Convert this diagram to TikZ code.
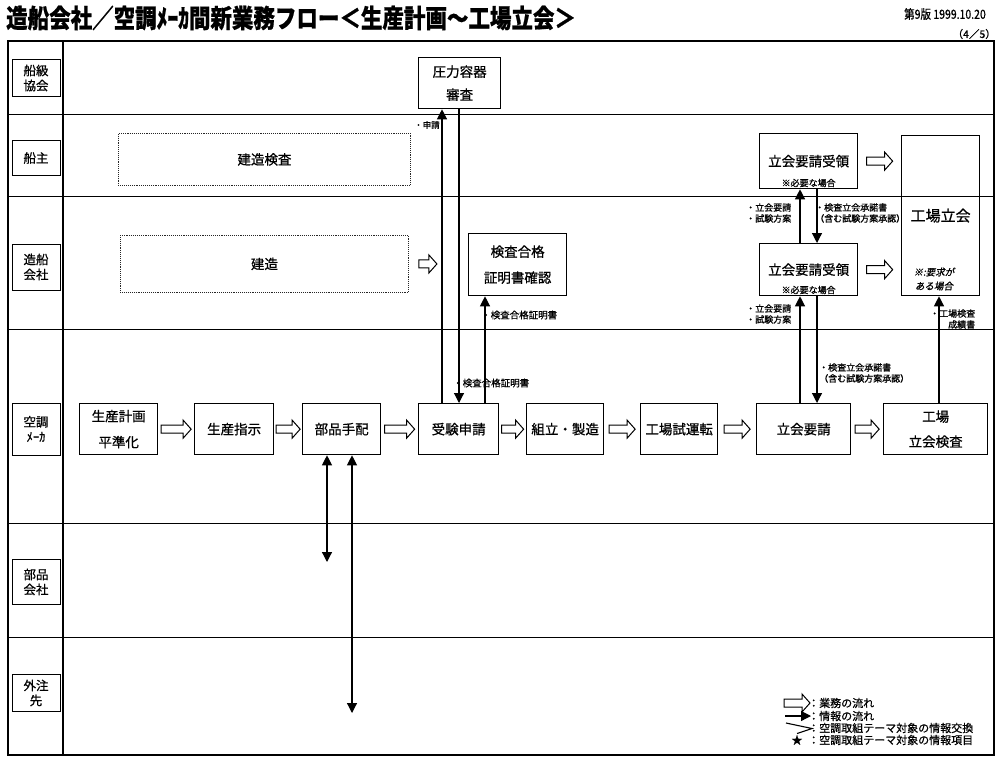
\documentclass[tikz,border=0pt]{standalone}
\usepackage{fontspec}
\setmainfont{Noto Sans CJK JP}[FakeBold=0.8]
\newfontfamily\slantjp[FakeSlant=0.2, FakeBold=0.8]{Noto Sans CJK JP}
\usetikzlibrary{arrows.meta, positioning, calc}
\newcommand{\fsz}[2]{\fontsize{#1}{#2}\selectfont}

\begin{document}
\begin{tikzpicture}[x=1pt, y=-1pt, font=\fsz{13.5}{16}, align=center,
    box/.style={draw, line width=1.3pt, anchor=north west, inner sep=0pt},
    dotbox/.style={draw=black!85, densely dotted, line width=0.9pt, anchor=north west, inner sep=0pt},
    lanebox/.style={draw, line width=1pt, minimum width=48, inner sep=0pt, font=\fsz{12.5}{15}},
    laneline/.style={line width=1pt},
    info/.style={line width=1.2pt, -{Triangle[length=10pt, width=10pt]}},
    infoboth/.style={line width=1.2pt, {Triangle[length=10pt, width=10pt]}-{Triangle[length=10pt, width=10pt]}},
    memo/.style={font=\fsz{9}{11}, inner sep=0pt, anchor=west, align=left},
    note/.style={font=\fsz{9}{11}, inner sep=2pt},
    legend/.style={font=\fsz{11}{13}, inner sep=0pt, anchor=west},
    pics/flowarrow/.style={code={
        \draw[line width=1pt, fill=white] (-#1,-4) -- (#1-8,-4) -- (#1-8,-9) -- (#1,0)
            -- (#1-8,9) -- (#1-8,4) -- (-#1,4) -- cycle;}},
    pics/flowarrow/.default=12.5]
\useasboundingbox (0,0) rectangle (1000,757);

% header
\node[anchor=west, inner sep=0pt, font=\bfseries\fsz{21.5}{24}] (title) at (6,18)
    {\scalebox{1}[1.2]{造船会社／空調ﾒｰｶ間新業務フロー＜生産計画～工場立会＞}};
\node[anchor=east, inner sep=0pt, font=\fsz{10.5}{12}] (version) at (986,14) {\scalebox{1}[1.2]{第9版 1999.10.20}};
\node[anchor=east, inner sep=0pt, font=\fsz{10.5}{12}] (page) at (996,34) {（4／5）};

% frame and lanes
\draw[line width=1.6pt] (8,41) rectangle (994,755);
\draw[line width=1.3pt] (63,41) -- (63,755);
\foreach \y in {115,196,329,523,637}
    \draw[laneline] (8,\y) -- (994,\y);

\node[lanebox, minimum height=37] (lkyoukai) at (36,78) {船級\\協会};
\node[lanebox, minimum height=35] (lsenshu) at (36,158) {船主};
\node[lanebox, minimum height=46] (lzousen) at (36,267) {造船\\会社};
\node[lanebox, minimum height=52] (lkuchou) at (36,429) {空調\\ﾒｰｶ};
\node[lanebox, minimum height=45] (lbuhin) at (36,582) {部品\\会社};
\node[lanebox, minimum height=37] (lgaichu) at (36,693) {外注\\先};

% 船級協会 / 船主 / 造船会社
\node[box, minimum width=82, minimum height=51] (atsuryoku) at (418,57) {圧力容器\\[7pt]審査};
\node[dotbox, minimum width=292, minimum height=52] (kenzoukensa) at (118,133) {建造検査};
\node[dotbox, minimum width=288, minimum height=57] (kenzou) at (120,235) {建造};
\node[box, minimum width=98, minimum height=62] (gokaku) at (468,233) {検査合格\\[10pt]証明書確認};
\node[box, minimum width=98, minimum height=55, label={[note, anchor=south]south:※必要な場合}] (juryou1) at (759,133) {立会要請受領};
\node[box, minimum width=98, minimum height=52, label={[note, anchor=south]south:※必要な場合}] (juryou2) at (759,243) {立会要請受領};
\node[box, minimum width=78, minimum height=160, font=\fsz{15}{18}] (tachiai) at (901,135) {工場立会};
\node[font=\slantjp\fsz{9.5}{14}, inner sep=0pt] (youkyu) at (934,279) {※:要求が\\ある場合};

% 空調メーカ
\def\ty{403}
\def\bh{51}
\node[box, minimum width=78, minimum height=\bh] (keikaku) at (79,\ty) {生産計画\\[10pt]平準化};
\node[box, minimum width=79, minimum height=\bh] (shiji) at (194,\ty) {生産指示};
\node[box, minimum width=78, minimum height=\bh] (tehai) at (302,\ty) {部品手配};
\node[box, minimum width=80, minimum height=\bh] (juken) at (418,\ty) {受験申請};
\node[box, minimum width=77, minimum height=\bh] (kumitate) at (526,\ty) {組立・製造};
\node[box, minimum width=77, minimum height=\bh] (shiunten) at (640,\ty) {工場試運転};
\node[box, minimum width=94, minimum height=\bh] (yousei) at (756,\ty) {立会要請};
\node[box, minimum width=104, minimum height=\bh] (kensa) at (883,\ty) {工場\\[9pt]立会検査};

% 業務の流れ
\pic at ($(keikaku.east)!0.5!(shiji.west)$) {flowarrow=15};
\pic at ($(shiji.east)!0.5!(tehai.west)$) {flowarrow=12};
\pic at ($(tehai.east)!0.5!(juken.west)$) {flowarrow=15};
\pic at ($(juken.east)!0.5!(kumitate.west)$) {flowarrow=11};
\pic at ($(kumitate.east)!0.5!(shiunten.west)$) {flowarrow=13};
\pic at ($(shiunten.east)!0.5!(yousei.west)$) {flowarrow=13};
\pic at ($(yousei.east)!0.5!(kensa.west)$) {flowarrow=12};
\pic at ($(kenzou.east)+(19,0)$) {flowarrow=9};
\pic at ($(juryou1.east)!0.5!(tachiai.west |- juryou1.center)$) {flowarrow=13};
\pic at ($(juryou2.east)!0.5!(tachiai.west |- juryou2.center)$) {flowarrow=13};

% 情報の流れ
\coordinate (c1) at ([xshift=24pt]juken.north west);
\coordinate (c2) at ([xshift=41pt]juken.north west);
\coordinate (c3) at ([xshift=67pt]juken.north west);
\draw[info] (c1) -- (c1 |- atsuryoku.south);
\draw[info] (c2 |- atsuryoku.south) -- (c2);
\draw[info] (c3) -- (c3 |- gokaku.south);
\node[memo, font=\fsz{8.5}{10}] (shinsei) at (414,125) {・申請};
\node[memo, font=\fsz{9.5}{11}] (shomei1) at (481,315) {・検査合格証明書};
\node[memo, font=\fsz{9.5}{11}] (shomei2) at (453,383) {・検査合格証明書};

\coordinate (t1) at ([xshift=41pt]juryou1.south west);
\coordinate (t2) at ([xshift=58pt]juryou1.south west);
\draw[info] (t1 |- juryou2.north) -- (t1);
\draw[info] (t2) -- (t2 |- juryou2.north);
\draw[info] (t1 |- yousei.north) -- (t1 |- juryou2.south);
\draw[info] (t2 |- juryou2.south) -- (t2 |- yousei.north);
\node[memo] (irai1) at (746,213) {・立会要請\\・試験方案};
\node[memo] (irai2) at (746,314) {・立会要請\\・試験方案};
\node[memo] (shoudaku1) at (815,213) {・検査立会承諾書\\（含む試験方案承認）};
\node[memo] (shoudaku2) at (819,373) {・検査立会承諾書\\（含む試験方案承認）};

\coordinate (k1) at ([xshift=38pt]tachiai.south west);
\draw[info] (k1 |- kensa.north) -- (k1);
\node[memo, align=right] (seiseki) at (930,319) {・工場検査\\成績書};

\coordinate (b1) at (327,562);
\coordinate (b2) at (352,713);
\draw[infoboth] (b1 |- tehai.south) -- (b1);
\draw[infoboth] (b2 |- tehai.south) -- (b2);

% 凡例
\pic at (797,703) {flowarrow=13};
\coordinate (lg1) at (785,716);
\coordinate (lg2) at (811,716);
\draw[info] (lg1) -- (lg2);
\draw[line width=1.1pt] (786,723) -- (812,728.5) -- (797,733.5);
\node[font=\fsz{11}{13}, inner sep=0pt] (lgstar) at (797,740) {★};
\node[legend] (lgt1) at (808,703) {：業務の流れ};
\node[legend] (lgt2) at (808,716) {：情報の流れ};
\node[legend] (lgt3) at (808,728) {：空調取組テーマ対象の情報交換};
\node[legend] (lgt4) at (808,740) {：空調取組テーマ対象の情報項目};
\end{tikzpicture}
\end{document}
